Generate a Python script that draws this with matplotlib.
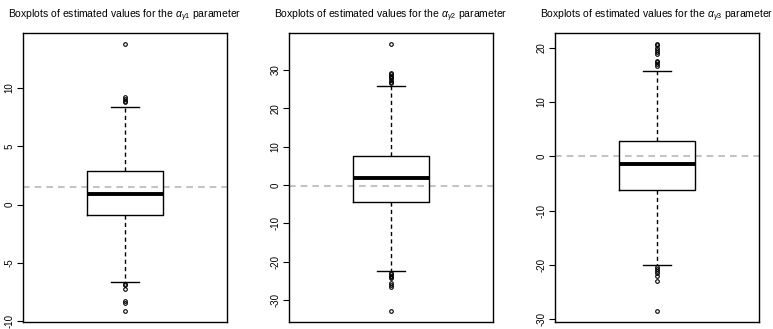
import matplotlib.pyplot as plt

plt.rcParams['font.family'] = ['Liberation Sans', 'DejaVu Sans']
plt.rcParams['mathtext.fontset'] = 'custom'
plt.rcParams['mathtext.rm'] = 'Liberation Sans'
plt.rcParams['mathtext.it'] = 'Liberation Sans:italic'

# one entry per parameter
params = ["1", "2", "3"]
q1 = [-0.92, -4.35, -6.2]
med = [0.94, 1.74, -1.34]
q3 = [2.88, 7.65, 2.8]
whislo = [-6.63, -22.3, -19.9]
whishi = [8.36, 25.7, 15.6]
fliers = [
    [13.8, 9.2, 9.05, 8.9, 8.8, -6.77, -6.9, -7.25, -8.3, -8.45, -9.14],
    [36.8, 29.1, 28.8, 28.5, 28.2, 27.8, 27.4, 26.9, 26.5,
     -23.0, -23.3, -23.6, -24.0, -24.3, -25.5, -26.0, -26.5, -32.9],
    [20.7, 20.4, 20.0, 19.6, 19.2, 18.8, 17.6, 17.3, 17.0, 16.6,
     -20.3, -20.7, -21.1, -21.5, -22.0, -23.0, -28.5],
]
true_vals = [1.51, -0.26, 0.12]
yticks = [[-10, -5, 0, 5, 10],
          [-30, -20, -10, 0, 10, 20, 30],
          [-30, -20, -10, 0, 10, 20]]

fig = plt.figure(figsize=(7.73, 3.29), dpi=100)
lefts = [23 / 773, 289 / 773, 555 / 773]

for i in range(3):
    ax = fig.add_axes([lefts[i], 1 - 322 / 329, 204 / 773, 289 / 329])
    stats = [dict(med=med[i], q1=q1[i], q3=q3[i], whislo=whislo[i],
                  whishi=whishi[i], fliers=fliers[i])]
    ax.bxp(stats, positions=[1], widths=0.4, capwidths=0.15,
           boxprops=dict(color='black', linewidth=1.0),
           medianprops=dict(color='black', linewidth=2.8, solid_capstyle='butt'),
           whiskerprops=dict(color='black', linewidth=1.0, linestyle=(0, (3, 2.3))),
           capprops=dict(color='black', linewidth=1.0),
           flierprops=dict(marker='o', markersize=2.6, markerfacecolor='none',
                           markeredgecolor='black', markeredgewidth=0.8))
    ax.axhline(true_vals[i], color='#c4c4c4', linewidth=1.5, linestyle=(0, (3.2, 2.4)), zorder=0)
    lo = min(fliers[i] + [whislo[i]])
    hi = max(fliers[i] + [whishi[i]])
    pad = 0.04 * (hi - lo)
    ax.set_ylim(lo - pad, hi + pad)
    ax.set_xlim(0.46, 1.54)
    ax.set_xticks([])
    ax.set_yticks(yticks[i])
    ax.set_yticklabels([str(t) for t in yticks[i]], rotation=90, va='center', fontsize=7)
    ax.tick_params(axis='y', length=4, width=0.8, pad=2)
    for s in ax.spines.values():
        s.set_linewidth(1.0)
    ax.set_title(r"Boxplots of estimated values for the $\alpha_{\gamma" + params[i] + "}$ parameter",
                 fontsize=7.5, pad=11)

fig.savefig("out.png", dpi=100)
